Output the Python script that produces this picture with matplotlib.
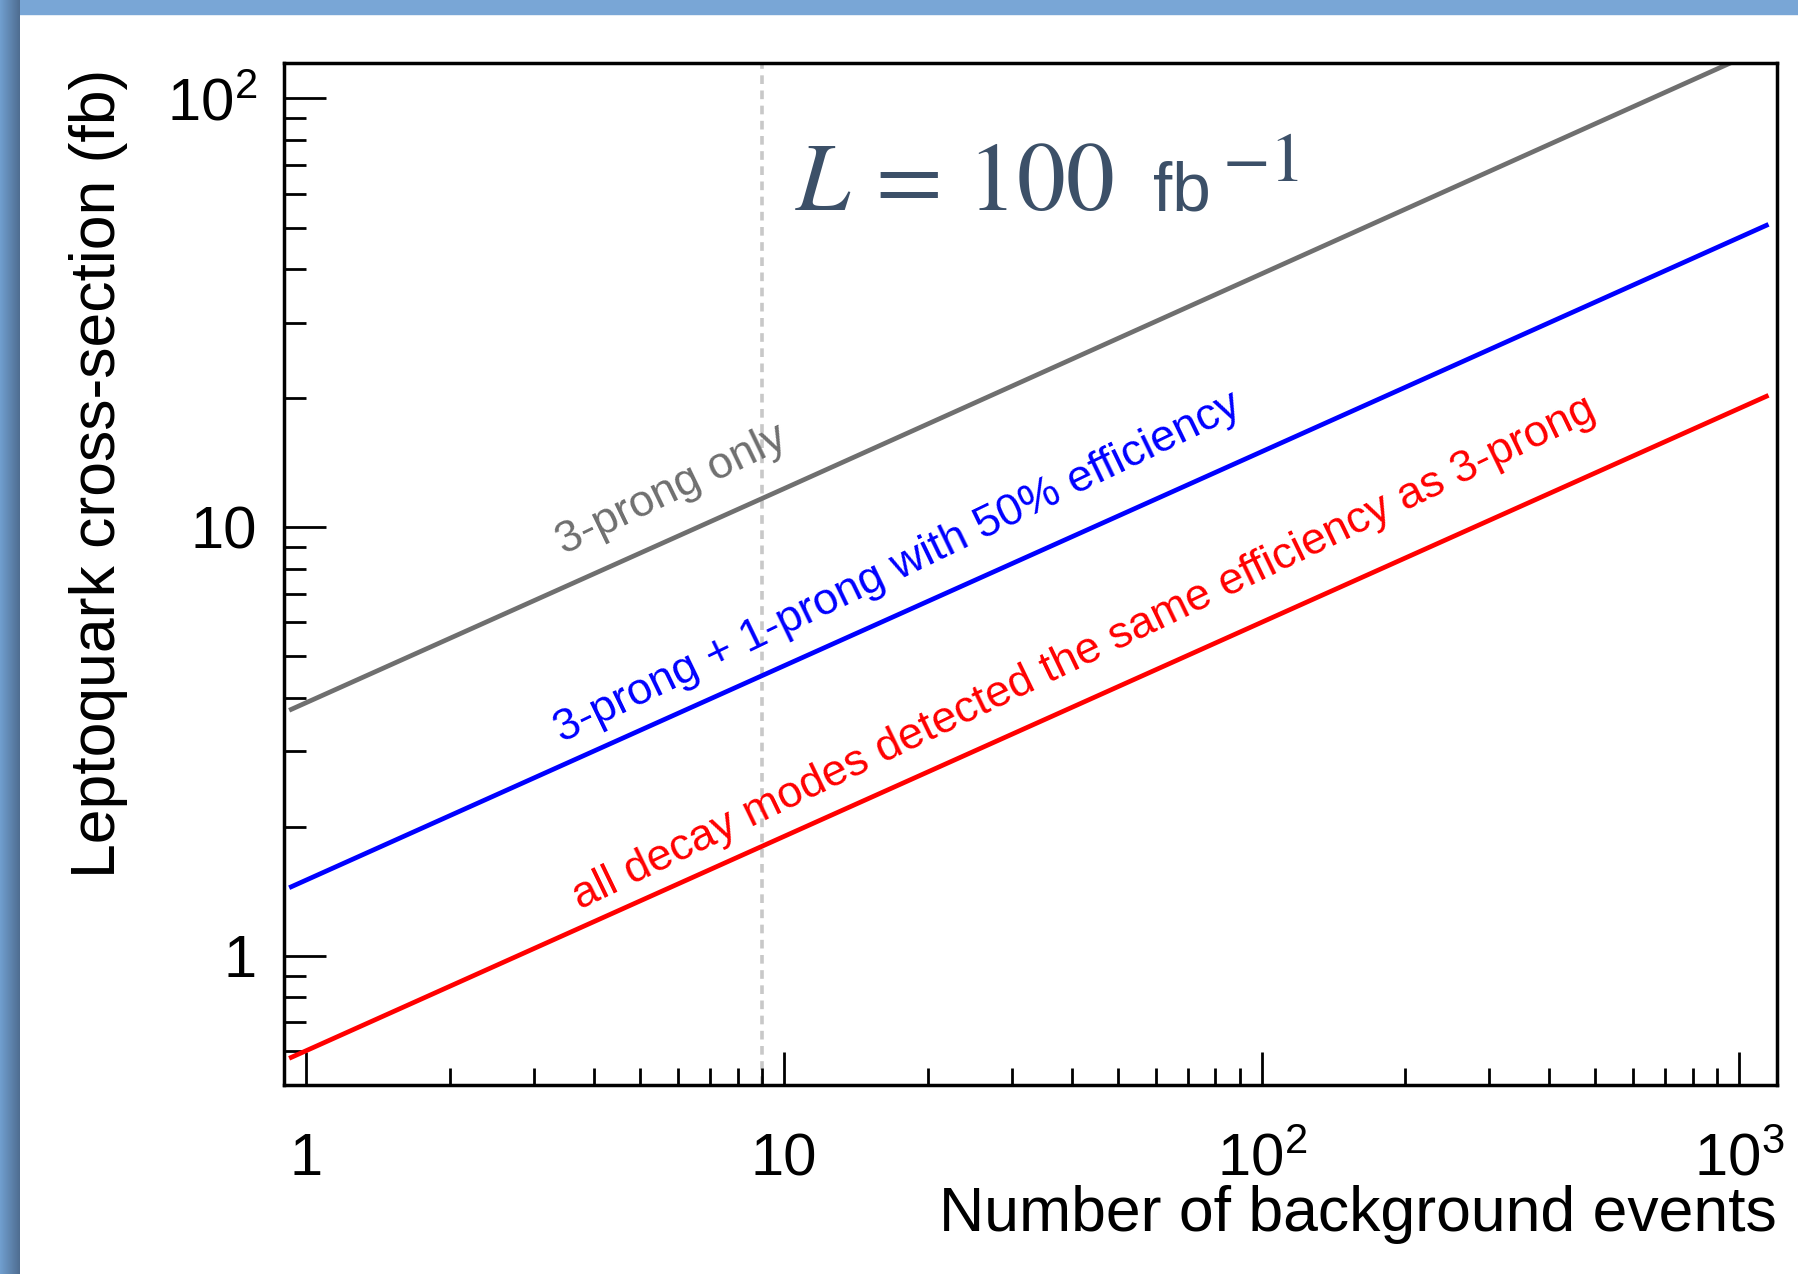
import numpy as np
import matplotlib
matplotlib.use("Agg")
import matplotlib.pyplot as plt
from matplotlib.patches import Rectangle

# values (straight lines on log-log axes)
n_bkg = [0.93, 10, 100, 1140]
sigma_3prong = [3.76, 12.3, 39.0, 132.0]
sigma_3p1p = [1.45, 4.75, 15.0, 50.6]
sigma_all = [0.58, 1.9, 6.0, 20.2]
n_cut = 9

label_3prong = "3-prong only"
label_3p1p = "3-prong + 1-prong with 50% efficiency"
label_all = "all decay modes detected the same efficiency as 3-prong"

xticks = [1, 10, 100, 1000]
xticklabels = ["1", "10", "$10^{2}$", "$10^{3}$"]
yticks = [1, 10, 100]
yticklabels = ["1", "10", "$10^{2}$"]

plt.rcParams["font.family"] = ["Liberation Sans", "DejaVu Sans"]
plt.rcParams["mathtext.fontset"] = "custom"
plt.rcParams["mathtext.rm"] = "Liberation Sans"
plt.rcParams["mathtext.it"] = "Liberation Sans:italic"

W, H = 1799, 1274
fig = plt.figure(figsize=(W / 100, H / 100), dpi=100)
fig.patch.set_facecolor("white")

# slide frame: blue band on top, shaded band on the left
fig.add_artist(Rectangle((0, 1 - 14 / H), 1, 14 / H, transform=fig.transFigure,
                         color="#79a6d6", zorder=0))
band = fig.add_axes([0, 0, 20 / W, 1])
grad = np.linspace(0, 1, 20)[None, :, None]
c0 = np.array([0.44, 0.62, 0.81])
c1 = np.array([0.31, 0.43, 0.57])
band.imshow(c0 * (1 - grad) + c1 * grad, aspect="auto")
band.axis("off")

# main axes
left, right, top, bottom = 284.5, 1777, 63, 1085
ax = fig.add_axes([left / W, (H - bottom) / H, (right - left) / W, (bottom - top) / H])
ax.set_xscale("log")
ax.set_yscale("log")
ax.set_xlim(0.9, 1200)
ax.set_ylim(0.5, 121)

ax.axvline(n_cut, color="#c8c8c8", lw=2.6, ls=(0, (2.4, 1.8)), zorder=1)
ax.plot(n_bkg, sigma_3prong, color="#6f6f6f", lw=3.4, zorder=2)
ax.plot(n_bkg, sigma_3p1p, color="#0000ff", lw=3.4, zorder=2)
ax.plot(n_bkg, sigma_all, color="#ff0000", lw=3.4, zorder=2)

rot = 25.8
ax.text(3.47, 8.61, label_3prong, color="#6f6f6f", fontsize=32.5, rotation=rot,
        rotation_mode="anchor", ha="left", va="baseline")
ax.text(3.43, 3.14, label_3p1p, color="#0000ff", fontsize=32.5, rotation=rot,
        rotation_mode="anchor", ha="left", va="baseline")
ax.text(3.75, 1.28, label_all, color="#ff0000", fontsize=32.3, rotation=rot,
        rotation_mode="anchor", ha="left", va="baseline")

# luminosity label: serif math, sans unit, serif exponent
lumi_color = "#3c5068"
ax.text(0.342, 0.856, r"$L\,=\,100$", transform=ax.transAxes, fontsize=70,
        color=lumi_color, math_fontfamily="stix", ha="left", va="baseline")
ax.text(0.582, 0.856, "fb", transform=ax.transAxes, fontsize=50,
        color=lumi_color, ha="left", va="baseline")
ax.text(0.628, 0.8845, r"$-1$", transform=ax.transAxes, fontsize=50,
        color=lumi_color, math_fontfamily="stix", ha="left", va="baseline")

# ROOT-like frame and ticks
for s in ax.spines.values():
    s.set_linewidth(2.5)
ax.set_xticks(xticks, xticklabels)
ax.set_yticks(yticks, yticklabels)
ax.tick_params(axis="both", which="both", direction="in", top=False, right=False,
               width=2.0, labelsize=43)
ax.tick_params(axis="x", which="major", length=24, pad=65)
ax.tick_params(axis="x", which="minor", length=12)
ax.tick_params(axis="y", which="major", length=30, pad=20)
ax.tick_params(axis="y", which="minor", length=16)
ax.yaxis.set_minor_formatter(plt.NullFormatter())
ax.xaxis.set_minor_formatter(plt.NullFormatter())
for lbl in ax.get_xticklabels():
    lbl.set_verticalalignment("baseline")

ax.set_xlabel("Number of background events", fontsize=45, loc="right")
ax.xaxis.set_label_coords(1.0, -0.098)
ax.set_ylabel("Leptoquark cross-section (fb)", fontsize=45, loc="top")
ax.yaxis.set_label_coords(-0.105, 0.994)

fig.savefig("out.png", dpi=100)
